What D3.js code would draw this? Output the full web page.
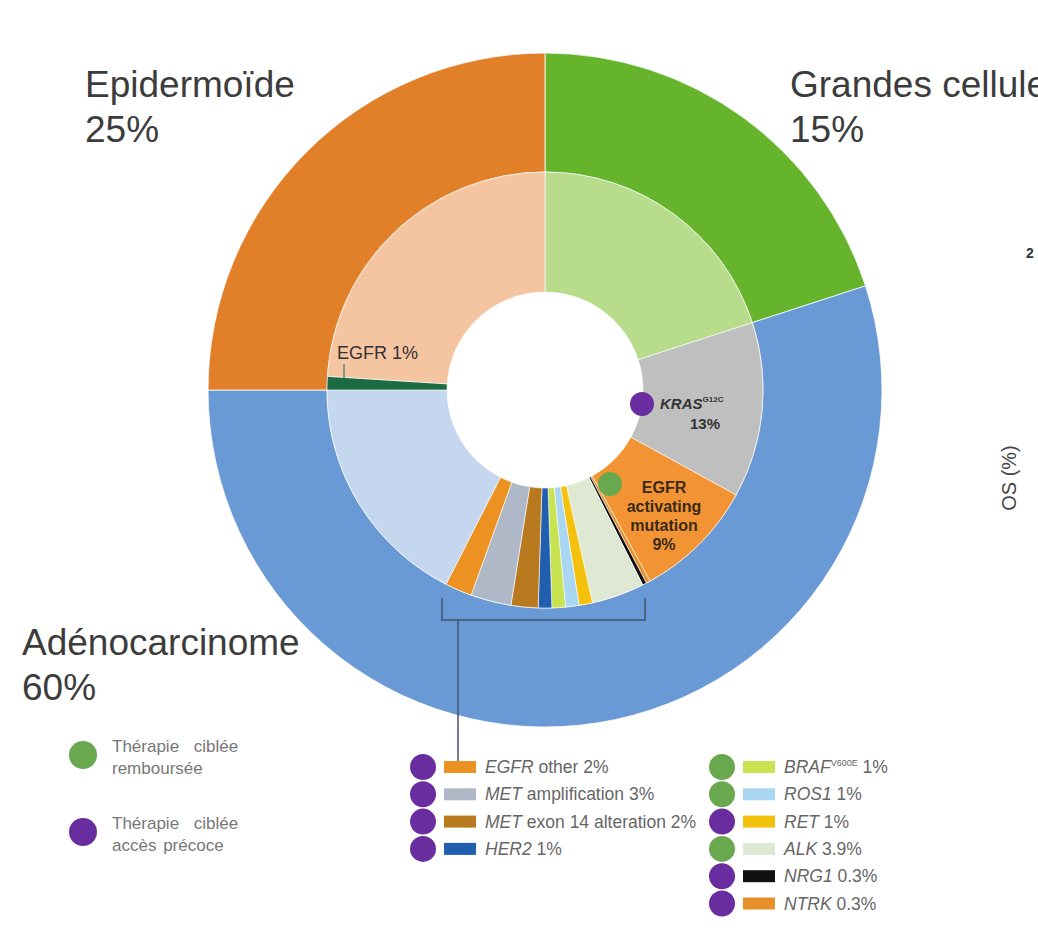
<html>
<head>
<meta charset="utf-8">
<script src="https://d3js.org/d3.v7.min.js"></script>
<style>
    body { margin: 0; background: #fff; }
    text { font-family: "Liberation Sans", Arial, sans-serif; }
</style>
</head>
<body>
<svg id="chart" width="1038" height="930"></svg>
<script>
// outer ring: histology (clockwise from 12 o'clock)
const outerNames = ["Grandes cellules", "Adénocarcinome", "Epidermoïde"];
const outerPct = ["15%", "60%", "25%"];
const outerValues = [20, 55, 25];
const outerColors = ["#66b32c", "#6a9ad5", "#e2802a"];

// inner ring: molecular alterations
const innerNames = ["Grandes autres", "KRAS", "EGFR act", "NTRK", "NRG1", "ALK", "RET", "ROS1",
    "BRAF", "HER2", "MET ex14", "MET amp", "EGFR other", "Adéno autres", "EGFR épi", "Epi autres"];
const innerValues = [20, 13, 9, 0.3, 0.3, 3.9, 1, 1, 1, 1, 2, 3, 2, 17.5, 1, 24];
const innerColors = ["#b6dc8c", "#bfbfbf", "#f39434", "#e8902b", "#111111", "#dfe8d3", "#f4c20d", "#a9d6f3",
    "#c9e350", "#1f5fae", "#b8791f", "#aeb8c6", "#ec9222", "#c5d6ef", "#1d6b45", "#f5c4a0"];

// legend of rare alterations
const legendKeys = ["EGFR other", "MET amp", "MET ex14", "HER2", "BRAF", "ROS1", "RET", "ALK", "NRG1", "NTRK"];
const legendGenes = ["EGFR", "MET", "MET", "HER2", "BRAF", "ROS1", "RET", "ALK", "NRG1", "NTRK"];
const legendSup = ["", "", "", "", "V600E", "", "", "", "", ""];
const legendRest = [" other 2%", " amplification 3%", " exon 14 alteration 2%", " 1%", " 1%", " 1%", " 1%", " 3.9%", " 0.3%", " 0.3%"];
const legendTherapy = ["p", "p", "p", "p", "g", "g", "p", "g", "p", "p"];

const therapyColor = { g: "#6aa84f", p: "#6a2d9f" };

const svg = d3.select("#chart");
const cx = 545, cy = 390;
const rHole = 98, rMid = 218, rOut = 337;

const g = svg.append("g").attr("transform", "translate(" + cx + "," + cy + ")");
const pie = d3.pie().sort(null).value(d => d);

const outerArc = d3.arc().innerRadius(rMid).outerRadius(rOut);
g.selectAll(".outer")
    .data(pie(outerValues))
    .enter()
    .append("path")
    .attr("class", "outer")
    .attr("d", outerArc)
    .attr("fill", (d, i) => outerColors[i])
    .attr("stroke", "#fff")
    .attr("stroke-width", 0.8);

const innerArc = d3.arc().innerRadius(rHole).outerRadius(rMid);
g.selectAll(".inner")
    .data(pie(innerValues))
    .enter()
    .append("path")
    .attr("class", "inner")
    .attr("d", innerArc)
    .attr("fill", (d, i) => innerColors[i])
    .attr("stroke", "#fff")
    .attr("stroke-width", 0.6);

// big histology labels
const titlePos = [[790, 97], [22, 655], [85, 97]];
outerNames.forEach((name, i) => {
    const t = svg.append("text")
        .attr("x", titlePos[i][0])
        .attr("y", titlePos[i][1])
        .attr("font-size", 37)
        .attr("fill", "#3c3c3c");
    t.append("tspan").text(name);
    t.append("tspan").attr("x", titlePos[i][0]).attr("dy", 45).text(outerPct[i]);
});

// inner labels
svg.append("text")
    .attr("x", 337).attr("y", 359)
    .attr("font-size", 18).attr("fill", "#333")
    .text("EGFR 1%");
svg.append("line")
    .attr("x1", 344).attr("y1", 364).attr("x2", 344).attr("y2", 383)
    .attr("stroke", "#1d6b45").attr("stroke-width", 1);

// KRAS
svg.append("circle").attr("cx", 642).attr("cy", 404).attr("r", 12).attr("fill", therapyColor.p);
const kras = svg.append("text").attr("x", 660).attr("y", 409)
    .attr("font-size", 15).attr("font-weight", "bold").attr("fill", "#333");
kras.append("tspan").attr("font-style", "italic").text("KRAS");
kras.append("tspan").attr("font-size", 8).attr("dy", -7).text("G12C");
svg.append("text").attr("x", 705).attr("y", 429).attr("text-anchor", "middle")
    .attr("font-size", 15).attr("font-weight", "bold").attr("fill", "#333").text("13%");

// EGFR activating
svg.append("circle").attr("cx", 610).attr("cy", 484).attr("r", 12).attr("fill", therapyColor.g);
["EGFR", "activating", "mutation", "9%"].forEach((s, i) => {
    svg.append("text")
        .attr("x", 664).attr("y", 493 + i * 19)
        .attr("text-anchor", "middle")
        .attr("font-size", 16).attr("font-weight", "bold")
        .attr("fill", "#3a2a1a")
        .text(s);
});

// bracket around rare slices
const bracket = d3.path();
bracket.moveTo(442, 598); bracket.lineTo(442, 620); bracket.lineTo(645, 620); bracket.lineTo(645, 598);
svg.append("path").attr("d", bracket.toString()).attr("fill", "none")
    .attr("stroke", "#44546a").attr("stroke-width", 1.5);
svg.append("line").attr("x1", 458).attr("y1", 620).attr("x2", 458).attr("y2", 762)
    .attr("stroke", "#44546a").attr("stroke-width", 1.5);

// legend of rare alterations
legendKeys.forEach((k, i) => {
    const col = i < 4 ? 0 : 1;
    const row = col === 0 ? i : i - 4;
    const x0 = col === 0 ? 423 : 722;
    const y0 = 767 + row * 27.3;
    svg.append("circle").attr("cx", x0).attr("cy", y0).attr("r", 13)
        .attr("fill", therapyColor[legendTherapy[i]]);
    svg.append("rect").attr("x", x0 + 21).attr("y", y0 - 6).attr("width", 32).attr("height", 12)
        .attr("fill", innerColors[innerNames.indexOf(k)]);
    const t = svg.append("text").attr("x", x0 + 62).attr("y", y0 + 6)
        .attr("font-size", 17.5).attr("fill", "#666");
    t.append("tspan").attr("font-style", "italic").text(legendGenes[i]);
    if (legendSup[i]) t.append("tspan").attr("font-size", 9).attr("dy", -7).text(legendSup[i]);
    t.append("tspan").attr("dy", legendSup[i] ? 7 : 0).text(legendRest[i]);
});

// therapy legend
const therapyLines = [["Thérapie ciblée", "remboursée"], ["Thérapie ciblée", "accès précoce"]];
const therapyY = [755, 832];
["g", "p"].forEach((k, i) => {
    svg.append("circle").attr("cx", 83).attr("cy", therapyY[i]).attr("r", 14).attr("fill", therapyColor[k]);
    therapyLines[i].forEach((s, j) => {
        svg.append("text").attr("x", 112).attr("y", therapyY[i] - 3 + j * 22)
            .attr("font-size", 17).attr("fill", "#777")
            .attr("word-spacing", j === 0 ? 10 : 2)
            .text(s);
    });
});

// cropped neighbour chart at right edge
svg.append("text").attr("transform", "translate(1016,478) rotate(-90)")
    .attr("text-anchor", "middle").attr("font-size", 20).attr("fill", "#444").text("OS (%)");
svg.append("text").attr("x", 1026).attr("y", 258).attr("font-size", 14)
    .attr("font-weight", "bold").attr("fill", "#333").text("2");
</script>
</body>
</html>
